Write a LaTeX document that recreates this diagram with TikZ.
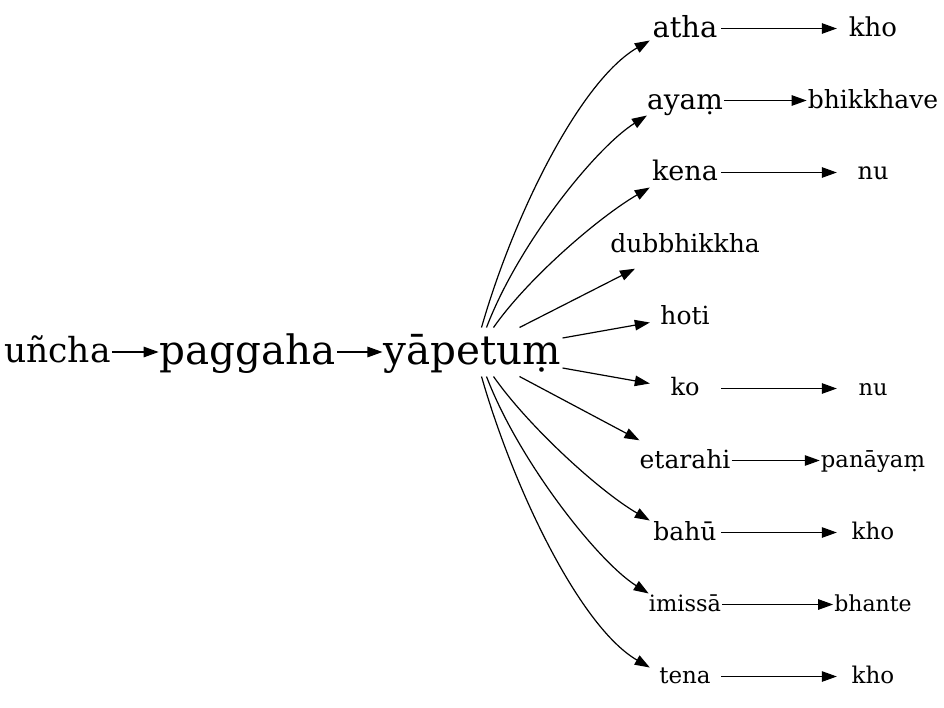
\documentclass[tikz,border=0pt]{standalone}
\usepackage{fontspec}
\setmainfont{DejaVu Serif}
\usetikzlibrary{calc,arrows.meta}

\tikzset{
  word/.style={font=\fontsize{#1}{#1}\selectfont, inner xsep=1pt, inner ysep=0pt,
    minimum width=72pt, minimum height=48pt,
    execute at begin node={\vrule height .91em depth .29em width 0pt}},
  edge/.style={line width=1.2pt, -{Triangle[length=15pt,width=10.5pt]}}
}

\begin{document}
\begin{tikzpicture}[x=1pt,y=-1pt]
    \useasboundingbox (0,0) rectangle (944,707);
    % main chain
    \node[word=34.5] (uncha) at (57.5,352) {uñcha};
    \node[word=40.5] (pag) at (248,352) {paggaha};
    \node[word=40.5] (yap) at (472.5,352) {yāpetuṃ};
    % second column
    \node[word=29] (atha) at (685,28.5) {atha};
    \node[word=28] (ayam) at (685,100.5) {ayaṃ};
    \node[word=27] (kena) at (685,172.5) {kena};
    \node[word=25] (dub) at (685,244.5) {dubbhikkha};
    \node[word=25] (hoti) at (685,316.5) {hoti};
    \node[word=24] (ko) at (685,388.5) {ko};
    \node[word=25] (etar) at (685,460.5) {etarahi};
    \node[word=25] (bahu) at (685,532.5) {bahū};
    \node[word=22.5] (imis) at (685,604.5) {imissā};
    \node[word=23] (tena) at (685,676.5) {tena};
    % third column
    \node[word=26] (kho1) at (873,28.5) {kho};
    \node[word=25] (bhik) at (873,100.5) {bhikkhave};
    \node[word=24] (nu1) at (873,172.5) {nu};
    \node[word=22.5] (nu2) at (873,388.5) {nu};
    \node[word=22.7] (pana) at (873,460.5) {panāyaṃ};
    \node[word=23] (kho2) at (873,532.5) {kho};
    \node[word=22] (bhan) at (873,604.5) {bhante};
    \node[word=23] (kho3) at (873,676.5) {kho};

    \draw[edge] (uncha) -- (pag);
    \draw[edge] (pag) -- (yap);
    % fan out of yapetum
    \draw[edge] ($(yap.north)+(9,0)$) .. controls +(33,-115) and +(-69,40) .. ($(atha.west)+(1,12)$);
    \draw[edge] ($(yap.north)+(14,0)$) .. controls +(32,-84) and +(-51,32) .. ($(ayam.west)+(1,15)$);
    \draw[edge] ($(yap.north)+(21,0)$) .. controls +(35,-50) and +(-50,29) .. ($(kena.west)+(1,15)$);
    \draw[edge] ($(yap.north)+(47,0)$) -- ($(dub.south)+(-50,0)$);
    \draw[edge] ($(yap.east)+(0,-14)$) -- ($(hoti.west)+(1,6)$);
    \draw[edge] ($(yap.east)+(0,16)$) -- ($(ko.west)+(1,-5)$);
    \draw[edge] ($(yap.south)+(47,0)$) -- ($(etar.north west)+(1,4)$);
    \draw[edge] ($(yap.south)+(21,0)$) .. controls +(35,50) and +(-50,-29) .. ($(bahu.west)+(1,-12)$);
    \draw[edge] ($(yap.south)+(14,0)$) .. controls +(32,84) and +(-51,-32) .. ($(imis.west)+(1,-11)$);
    \draw[edge] ($(yap.south)+(9,0)$) .. controls +(33,115) and +(-69,-40) .. ($(tena.west)+(1,-9)$);
    % second to third column
    \draw[edge] (atha) -- (kho1);
    \draw[edge] (ayam) -- (bhik);
    \draw[edge] (kena) -- (nu1);
    \draw[edge] (ko) -- (nu2);
    \draw[edge] (etar) -- (pana);
    \draw[edge] (bahu) -- (kho2);
    \draw[edge] (imis) -- (bhan);
    \draw[edge] (tena) -- (kho3);
\end{tikzpicture}
\end{document}
